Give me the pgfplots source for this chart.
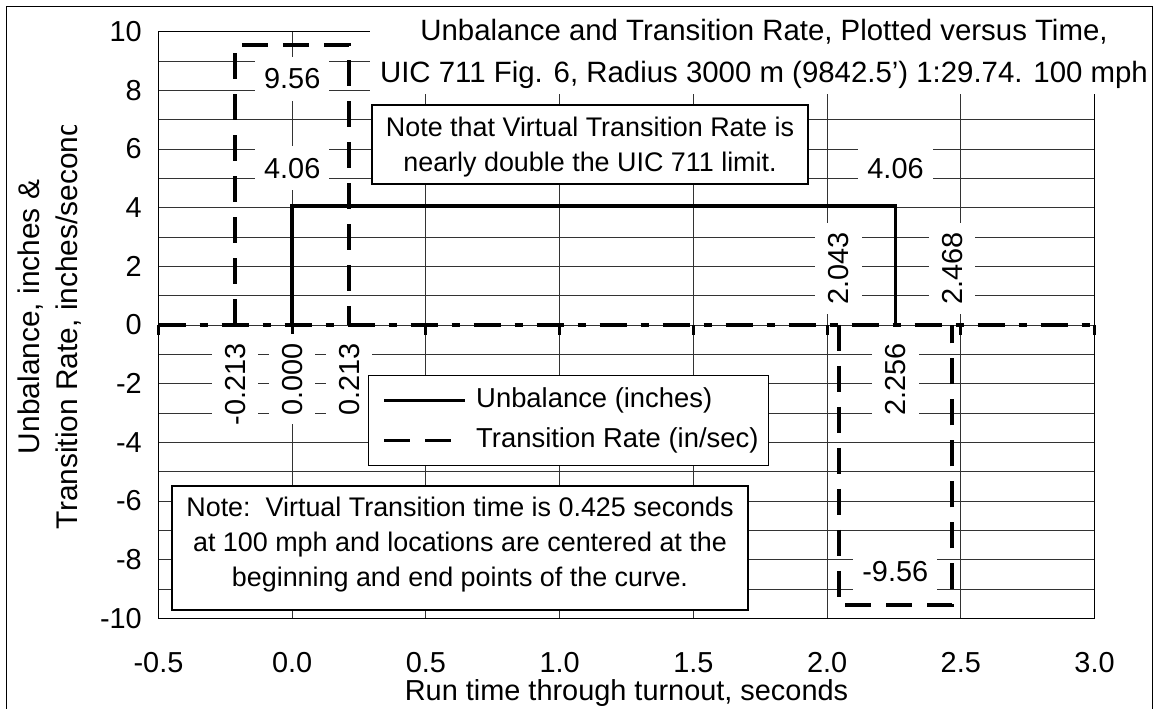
\documentclass[border=0pt]{standalone}
\usepackage{pgfplots}
\pgfplotsset{compat=1.18}
\usepackage{fontspec}
\setmainfont{Liberation Sans}
\tikzset{
  lab/.style={fill=white, font=\fontsize{29}{34}\selectfont, inner xsep=9bp, inner ysep=12bp},
  rlab/.style={fill=white, font=\fontsize{29}{34}\selectfont, inner xsep=9bp, inner ysep=13bp, rotate=90},
}
\begin{document}
\begin{tikzpicture}[x=1bp,y=1bp]
\useasboundingbox (0,0) rectangle (1162,709);
\begin{axis}[
  at={(158.5bp,90.7bp)}, anchor=south west, scale only axis,
  width=936bp, height=586.6bp,
  xmin=-0.5, xmax=3.0, ymin=-10, ymax=10,
  xtick={-0.5,0,0.5,1,1.5,2,2.5,3},
  ytick={-10,-8,...,10},
  minor ytick={-9,-7,...,9},
  grid=both,
  grid style={black!80, line width=0.9bp},
  minor grid style={black!80, line width=0.9bp},
  major tick length=0pt, minor tick length=0pt,
  axis line style={black, line width=1.3bp},
  /pgf/number format/assume math mode=true,
  ticklabel style={font=\fontsize{29}{34}\selectfont},
  xticklabel style={anchor=center, yshift=-44.7bp, /pgf/number format/fixed, /pgf/number format/fixed zerofill, /pgf/number format/precision=1},
  yticklabel style={anchor=east, inner sep=0pt, xshift=-16.5bp},
  xlabel={Run time through turnout, seconds},
  xlabel style={at={(axis description cs:0.5,0)}, anchor=base, yshift=-82.1bp, font=\fontsize{29}{34}\selectfont},
  clip=false,
  unbounded coords=jump,
  legend style={at={(axis description cs:0.2238,0.4148)}, anchor=north west,
    draw=black, line width=1.3bp, fill=white,
    font=\fontsize{27.5}{32}\selectfont,
    inner xsep=10bp, inner ysep=12bp, row sep=14bp,
    nodes={inner xsep=0pt, inner ysep=0pt, text height=20bp, text depth=6bp},
    /tikz/every odd column/.append style={column sep=9bp}},
  legend cell align=left,
  legend image post style={line width=3.6bp},
  legend image code/.code={\path (0bp,0bp); \draw[#1, line width=3.6bp] (4bp,0bp) -- (85bp,0bp);},
]
% zero line (axis crossing at y=0), dash-dot
\addplot[black, line width=4bp, dash pattern=on 27bp off 14bp on 8bp off 14bp, forget plot]
  coordinates {(-0.5,0) (3.0,0)};
% tick stubs below the zero line
\addplot[black, line width=3bp, ycomb, forget plot]
  coordinates {(-0.5,-0.35) (0,-0.35) (0.5,-0.35) (1,-0.35) (1.5,-0.35) (2,-0.35) (2.5,-0.35) (3,-0.35)};
\addplot[black, line width=3.5bp]
  coordinates {(0,0) (0,4.06) (2.256,4.06) (2.256,0)};
\addlegendentry{Unbalance (inches)}
\addplot[black, line width=4bp, dash pattern=on 26bp off 15bp]
  coordinates {(-0.213,0) (-0.213,9.56) (0.213,9.56) (0.213,0) (1,nan) (2.043,0) (2.043,-9.56) (2.468,-9.56) (2.468,0)};
\addlegendentry{Transition Rate (in/sec)}
% data labels
\node[lab] at (axis cs:0,8.39) {9.56};
\node[lab] at (axis cs:0,5.35) {4.06};
\node[lab] at (axis cs:2.256,5.35) {4.06};
\node[lab] at (axis cs:2.255,-8.39) {-9.56};
\node[rlab, anchor=east] at (axis cs:-0.213,-0.307) {-0.213};
\node[rlab, anchor=east] at (axis cs:0,-0.307) {0.000};
\node[rlab, anchor=east] at (axis cs:0.213,-0.307) {0.213};
\node[rlab, anchor=east] at (axis cs:2.256,-0.307) {2.256};
\node[rlab, anchor=west] at (axis cs:2.043,0.375) {2.043};
\node[rlab, anchor=west] at (axis cs:2.468,0.375) {2.468};
\end{axis}
% title
\fill[white] (370,615) rectangle (1151,701);
\node[font=\fontsize{29.5}{42}\selectfont, anchor=base] at (764,668.4) {Unbalance and Transition Rate, Plotted versus Time,};
\node[font=\fontsize{29.5}{42}\selectfont, anchor=base] at (764,626.4) {UIC 711 Fig. 6, Radius 3000 m (9842.5') 1:29.74. 100 mph};
% note 1
\filldraw[fill=white, draw=black, line width=1.5bp] (372,525) rectangle (808,604);
\node[font=\fontsize{27}{35}\selectfont, anchor=base] at (590,572.3) {Note that Virtual Transition Rate is};
\node[font=\fontsize{27}{35}\selectfont, anchor=base] at (590,537.5) {nearly double the UIC 711 limit.};
% note 2
\filldraw[fill=white, draw=black, line width=1.5bp] (172,99) rectangle (748,223);
\node[font=\fontsize{27}{35}\selectfont, anchor=base] at (460,192) {Note:\ \ Virtual Transition time is 0.425 seconds};
\node[font=\fontsize{27}{35}\selectfont, anchor=base] at (460,157) {at 100 mph and locations are centered at the};
\node[font=\fontsize{27}{35}\selectfont, anchor=base] at (460,122) {beginning and end points of the curve.};
% y label (clipped as in the original)
\begin{scope}
\clip (0,0) rectangle (150,583);
\node[rotate=90, anchor=base, font=\fontsize{30}{38}\selectfont] at (39.7,392) {Unbalance, inches \&};
\node[rotate=90, anchor=base, font=\fontsize{30}{38}\selectfont] at (77.7,392) {Transition Rate, inches/seconds};
\end{scope}
% outer border
\draw[black, line width=1.3bp] (6.5,-10) rectangle (1152.5,702.5);
\end{tikzpicture}
\end{document}
